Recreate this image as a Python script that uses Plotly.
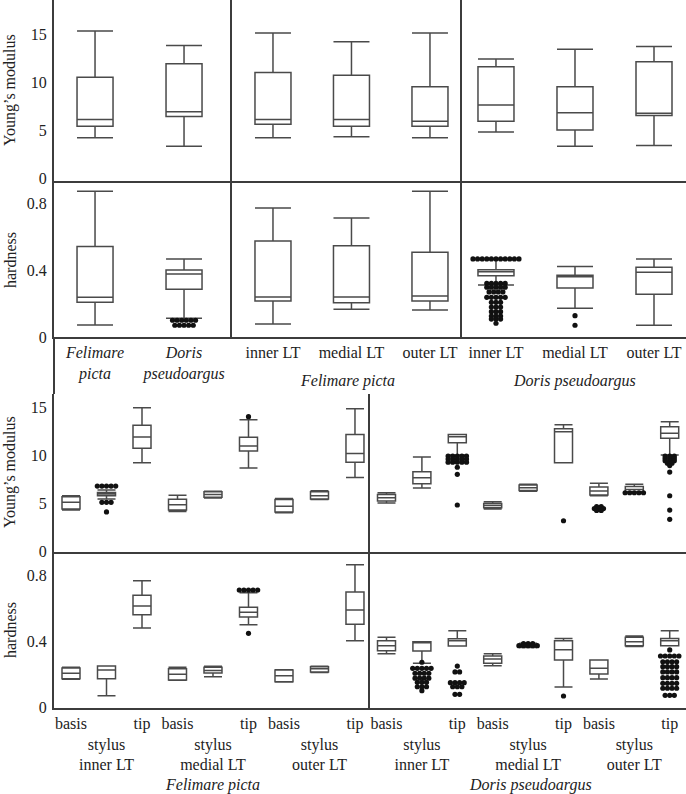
import plotly.graph_objects as go

W, H = 686, 794
FONT = "Liberation Serif"
TXT = "#222222"
LINE = "#3c3c3c"
BOXC = "#4a4a4a"

# ---------------- data ----------------
# top section, panel 1 (species)
top1_labels = ["<i>Felimare</i><br><i>picta</i>", "<i>Doris</i><br><i>pseudoargus</i>"]
# top section, panels 2 and 3 (lateral teeth)
lt_labels = ["inner LT", "medial LT", "outer LT"]

# Young's modulus, top panel 1
ym1_low = [4.2, 3.3]
ym1_q1 = [5.4, 6.4]
ym1_med = [6.1, 6.9]
ym1_q3 = [10.5, 11.9]
ym1_high = [15.3, 13.8]
# Young's modulus, top panel 2 (Felimare picta)
ym2_low = [4.2, 4.3, 4.2]
ym2_q1 = [5.6, 5.4, 5.4]
ym2_med = [6.1, 6.1, 5.9]
ym2_q3 = [11.0, 10.7, 9.5]
ym2_high = [15.1, 14.2, 15.1]
# Young's modulus, top panel 3 (Doris pseudoargus)
ym3_low = [4.8, 3.3, 3.4]
ym3_q1 = [5.9, 5.0, 6.5]
ym3_med = [7.6, 6.8, 6.75]
ym3_q3 = [11.6, 9.5, 12.1]
ym3_high = [12.4, 13.4, 13.7]

# hardness, top panel 1
hd1_low = [0.072, 0.112]
hd1_q1 = [0.207, 0.285]
hd1_med = [0.237, 0.376]
hd1_q3 = [0.54, 0.40]
hd1_high = [0.87, 0.466]
hd1_out_box = [1, 1]
hd1_out_val = [0.100, 0.070]
hd1_out_n = [6, 5]
# hardness, top panel 2
hd2_low = [0.078, 0.165, 0.161]
hd2_q1 = [0.215, 0.205, 0.215]
hd2_med = [0.239, 0.239, 0.245]
hd2_q3 = [0.573, 0.545, 0.506]
hd2_high = [0.77, 0.71, 0.87]
# hardness, top panel 3
hd3_low = [0.31, 0.171, 0.07]
hd3_q1 = [0.366, 0.293, 0.255]
hd3_med = [0.39, 0.36, 0.386]
hd3_q3 = [0.402, 0.368, 0.416]
hd3_high = [0.466, 0.42, 0.466]
hd3_out_box = [0, 0, 0, 0, 0, 0, 0, 0, 0, 0, 0, 1, 1]
hd3_out_val = [0.466, 0.320, 0.297, 0.269, 0.237, 0.207, 0.179, 0.151, 0.125, 0.107, 0.082, 0.127, 0.070]
hd3_out_n = [11, 5, 5, 4, 5, 3, 3, 3, 3, 3, 1, 1, 1]

# bottom section (parts of the teeth)
part_labels = ["basis", "\u00a0<br>stylus<br>inner LT", "tip",
               "basis", "\u00a0<br>stylus<br>medial LT", "tip",
               "basis", "\u00a0<br>stylus<br>outer LT", "tip"]

# Young's modulus, bottom left (Felimare picta)
ymL_low = [4.3, 5.45, 9.25, 4.15, 5.55, 8.69, 4.0, 5.4, 7.7]
ymL_q1 = [4.4, 5.8, 10.75, 4.29, 5.62, 10.47, 4.1, 5.44, 9.3]
ymL_med = [5.1, 5.97, 11.94, 4.85, 5.93, 11.0, 4.7, 5.8, 10.2]
ymL_q3 = [5.69, 6.14, 13.16, 5.41, 6.2, 11.9, 5.4, 6.2, 12.2]
ymL_high = [5.8, 6.39, 15.0, 5.83, 6.25, 13.75, 5.5, 6.3, 14.9]
ymL_out_box = [1, 1, 1, 5]
ymL_out_val = [6.8, 5.1, 4.1, 14.07]
ymL_out_n = [5, 3, 1, 1]

# Young's modulus, bottom right (Doris pseudoargus)
ymR_low = [5.03, 6.6, 10.05, 4.4, 6.25, 9.25, 5.8, 6.15, 10.05]
ymR_q1 = [5.24, 7.05, 11.34, 4.53, 6.35, 9.25, 5.86, 6.2, 11.8]
ymR_med = [5.58, 7.68, 11.97, 4.78, 6.63, 12.5, 6.28, 6.45, 12.32]
ymR_q3 = [5.93, 8.3, 12.2, 4.99, 6.91, 12.8, 6.7, 6.75, 13.0]
ymR_high = [6.1, 9.84, 12.2, 5.16, 7.0, 13.23, 7.09, 7.0, 13.54]
ymR_out_box = [2, 2, 2, 2, 2, 2, 5, 6, 6, 6, 7, 8, 8, 8, 8, 8, 8, 8, 8, 8]
ymR_out_val = [9.95, 9.63, 9.30, 8.77, 8.03, 4.82, 3.17, 4.65, 4.45, 4.25, 6.10,
               9.95, 9.70, 9.45, 9.20, 8.95, 8.27, 5.79, 4.29, 3.32]
ymR_out_n = [5, 5, 5, 1, 1, 1, 1, 2, 3, 2, 5, 3, 3, 3, 2, 1, 1, 1, 1, 1]

# hardness, bottom left (Felimare picta)
hdL_low = [0.171, 0.072, 0.483, 0.165, 0.187, 0.503, 0.155, 0.212, 0.406]
hdL_q1 = [0.175, 0.175, 0.564, 0.167, 0.209, 0.55, 0.157, 0.215, 0.506]
hdL_med = [0.208, 0.228, 0.617, 0.202, 0.225, 0.579, 0.193, 0.235, 0.593]
hdL_q3 = [0.24, 0.252, 0.682, 0.236, 0.244, 0.609, 0.228, 0.248, 0.702]
hdL_high = [0.245, 0.252, 0.771, 0.244, 0.25, 0.698, 0.23, 0.25, 0.868]
hdL_out_box = [5, 5]
hdL_out_val = [0.714, 0.451]
hdL_out_n = [5, 1]

# hardness, bottom right (Doris pseudoargus)
hdR_low = [0.327, 0.269, 0.374, 0.254, 0.365, 0.125, 0.173, 0.37, 0.376]
hdR_q1 = [0.345, 0.343, 0.374, 0.269, 0.37, 0.289, 0.204, 0.376, 0.376]
hdR_med = [0.376, 0.394, 0.406, 0.295, 0.375, 0.351, 0.238, 0.40, 0.406]
hdR_q3 = [0.406, 0.40, 0.418, 0.313, 0.385, 0.406, 0.289, 0.427, 0.42]
hdR_high = [0.427, 0.40, 0.467, 0.327, 0.39, 0.42, 0.289, 0.435, 0.467]
hdR_out_box = [1, 1, 1, 1, 1, 1, 1, 2, 2, 2, 2, 2, 4, 4, 5,
               8, 8, 8, 8, 8, 8, 8, 8, 8]
hdR_out_val = [0.275, 0.238, 0.208, 0.178, 0.153, 0.126, 0.102,
               0.252, 0.216, 0.151, 0.126, 0.080,
               0.388, 0.376, 0.070,
               0.350, 0.313, 0.278, 0.248, 0.216, 0.181, 0.147, 0.117, 0.074]
hdR_out_n = [1, 5, 4, 4, 3, 3, 1,
             1, 2, 4, 3, 2,
             3, 5, 1,
             1, 5, 4, 4, 4, 4, 4, 4, 3]

young_ticks = [0, 5, 10, 15]
hard_ticks = [0, 0.4, 0.8]
hard_ticktext = ["0", "0.4", "0.8"]

# ---------------- layout geometry (pixels) ----------------
def xd(a, b):
    return [a / W, b / W]

def yd(top, bottom):
    return [1 - bottom / H, 1 - top / H]

cells = [
    dict(xdom=(54, 232), ydom=(0, 181), xr=(-0.461, 1.539), yr=(-0.31, 18.54), n=2, yk="y", xt=None, yt=True),
    dict(xdom=(232, 462), ydom=(0, 181), xr=(-0.522, 2.408), yr=(-0.31, 18.54), n=3, yk="y", xt=None, yt=False),
    dict(xdom=(462, 686), ydom=(0, 181), xr=(-0.430, 2.405), yr=(-0.31, 18.54), n=3, yk="y", xt=None, yt=False),
    dict(xdom=(54, 232), ydom=(181, 337), xr=(-0.461, 1.539), yr=(0, 0.931), n=2, yk="h", xt=top1_labels, yt=True),
    dict(xdom=(232, 462), ydom=(181, 337), xr=(-0.522, 2.408), yr=(0, 0.931), n=3, yk="h", xt=lt_labels, yt=False),
    dict(xdom=(462, 686), ydom=(181, 337), xr=(-0.430, 2.405), yr=(0, 0.931), n=3, yk="h", xt=lt_labels, yt=False),
    dict(xdom=(54, 370), ydom=(394, 552), xr=(-0.479, 8.423), yr=(-0.1, 16.44), n=9, yk="y", xt=None, yt=True),
    dict(xdom=(370, 686), ydom=(394, 552), xr=(-0.466, 8.46), yr=(-0.1, 16.44), n=9, yk="y", xt=None, yt=False),
    dict(xdom=(54, 370), ydom=(552, 707.5), xr=(-0.479, 8.423), yr=(0, 0.945), n=9, yk="h", xt=part_labels, yt=True),
    dict(xdom=(370, 686), ydom=(552, 707.5), xr=(-0.466, 8.46), yr=(0, 0.945), n=9, yk="h", xt=part_labels, yt=False),
]

box_data = [
    (ym1_low, ym1_q1, ym1_med, ym1_q3, ym1_high, None),
    (ym2_low, ym2_q1, ym2_med, ym2_q3, ym2_high, None),
    (ym3_low, ym3_q1, ym3_med, ym3_q3, ym3_high, None),
    (hd1_low, hd1_q1, hd1_med, hd1_q3, hd1_high, (hd1_out_box, hd1_out_val, hd1_out_n)),
    (hd2_low, hd2_q1, hd2_med, hd2_q3, hd2_high, None),
    (hd3_low, hd3_q1, hd3_med, hd3_q3, hd3_high, (hd3_out_box, hd3_out_val, hd3_out_n)),
    (ymL_low, ymL_q1, ymL_med, ymL_q3, ymL_high, (ymL_out_box, ymL_out_val, ymL_out_n)),
    (ymR_low, ymR_q1, ymR_med, ymR_q3, ymR_high, (ymR_out_box, ymR_out_val, ymR_out_n)),
    (hdL_low, hdL_q1, hdL_med, hdL_q3, hdL_high, (hdL_out_box, hdL_out_val, hdL_out_n)),
    (hdR_low, hdR_q1, hdR_med, hdR_q3, hdR_high, (hdR_out_box, hdR_out_val, hdR_out_n)),
]

BOX_PX_TOP = 36
BOX_PX_BOT = 18
DOT_PX = 4.6

fig = go.Figure()
layout = {}
for i, (c, d) in enumerate(zip(cells, box_data), start=1):
    xa = "x" if i == 1 else f"x{i}"
    ya = "y" if i == 1 else f"y{i}"
    xkey = "xaxis" if i == 1 else f"xaxis{i}"
    ykey = "yaxis" if i == 1 else f"yaxis{i}"
    ppu = (c["xdom"][1] - c["xdom"][0]) / (c["xr"][1] - c["xr"][0])
    bpx = BOX_PX_TOP if i <= 6 else BOX_PX_BOT
    low, q1, med, q3, high, outs = d
    pos = list(range(c["n"]))
    fig.add_trace(go.Box(
        x=pos, q1=q1, median=med, q3=q3, lowerfence=low, upperfence=high,
        width=bpx / ppu, whiskerwidth=1, boxpoints=False,
        line=dict(color=BOXC, width=1.5), fillcolor="rgba(255,255,255,0)",
        xaxis=xa, yaxis=ya, showlegend=False, hoverinfo="skip"))
    if outs:
        ox, oy = [], []
        for b, v, n in zip(*outs):
            for k in range(n):
                ox.append(b + (k - (n - 1) / 2) * DOT_PX / ppu)
                oy.append(v)
        fig.add_trace(go.Scatter(
            x=ox, y=oy, mode="markers", marker=dict(color="#111111", size=5.2),
            xaxis=xa, yaxis=ya, showlegend=False, hoverinfo="skip"))
    xaxis = dict(domain=xd(*c["xdom"]), range=list(c["xr"]), anchor=ya,
                 showline=True, linecolor=LINE, linewidth=2, showgrid=False,
                 zeroline=False, ticks="", fixedrange=True, tickangle=0,
                 automargin=False)
    if c["xt"] is not None:
        xaxis.update(tickmode="array", tickvals=pos, ticktext=c["xt"],
                     tickfont=dict(family=FONT, size=16, color=TXT))
    else:
        xaxis.update(showticklabels=False)
    yaxis = dict(domain=yd(*c["ydom"]), range=list(c["yr"]), anchor=xa,
                 showline=True, linecolor=LINE, linewidth=2, showgrid=False,
                 zeroline=False, ticks="", fixedrange=True, automargin=False)
    if c["yt"]:
        if c["yk"] == "y":
            yaxis.update(tickmode="array", tickvals=young_ticks)
        else:
            yaxis.update(tickmode="array", tickvals=hard_ticks, ticktext=hard_ticktext)
        yaxis.update(tickfont=dict(family=FONT, size=16, color=TXT), ticklabelstandoff=2)
    else:
        yaxis.update(showticklabels=False)
    layout[xkey] = xaxis
    layout[ykey] = yaxis

annots = []
def ann(text, xpx, ypx, angle=0, italic=False):
    t = f"<i>{text}</i>" if italic else text
    annots.append(dict(text=t, x=xpx / W, y=1 - ypx / H, xref="paper", yref="paper",
                       showarrow=False, textangle=angle, xanchor="center", yanchor="middle",
                       font=dict(family=FONT, size=16, color=TXT)))

ann("Young’s modulus", 10, 90, -90)
ann("hardness", 10, 260, -90)
ann("Young’s modulus", 10, 472, -90)
ann("hardness", 10, 630, -90)
ann("Felimare picta", 347, 381, italic=True)
ann("Doris pseudoargus", 574, 381, italic=True)
ann("Felimare picta", 212, 785, italic=True)
ann("Doris pseudoargus", 530, 785, italic=True)

shapes = [dict(type="line", xref="paper", yref="paper", x0=54 / W, x1=54 / W,
               y0=1 - 337 / H, y1=1 - 394 / H, line=dict(color=LINE, width=2))]

fig.update_layout(width=W, height=H, margin=dict(l=0, r=0, t=0, b=0, autoexpand=False),
                  paper_bgcolor="white", plot_bgcolor="white",
                  annotations=annots, shapes=shapes, **layout)
fig.write_html("out.html", config={"displayModeBar": False},
               post_script="document.body.style.margin='0';document.body.style.overflow='hidden';")
